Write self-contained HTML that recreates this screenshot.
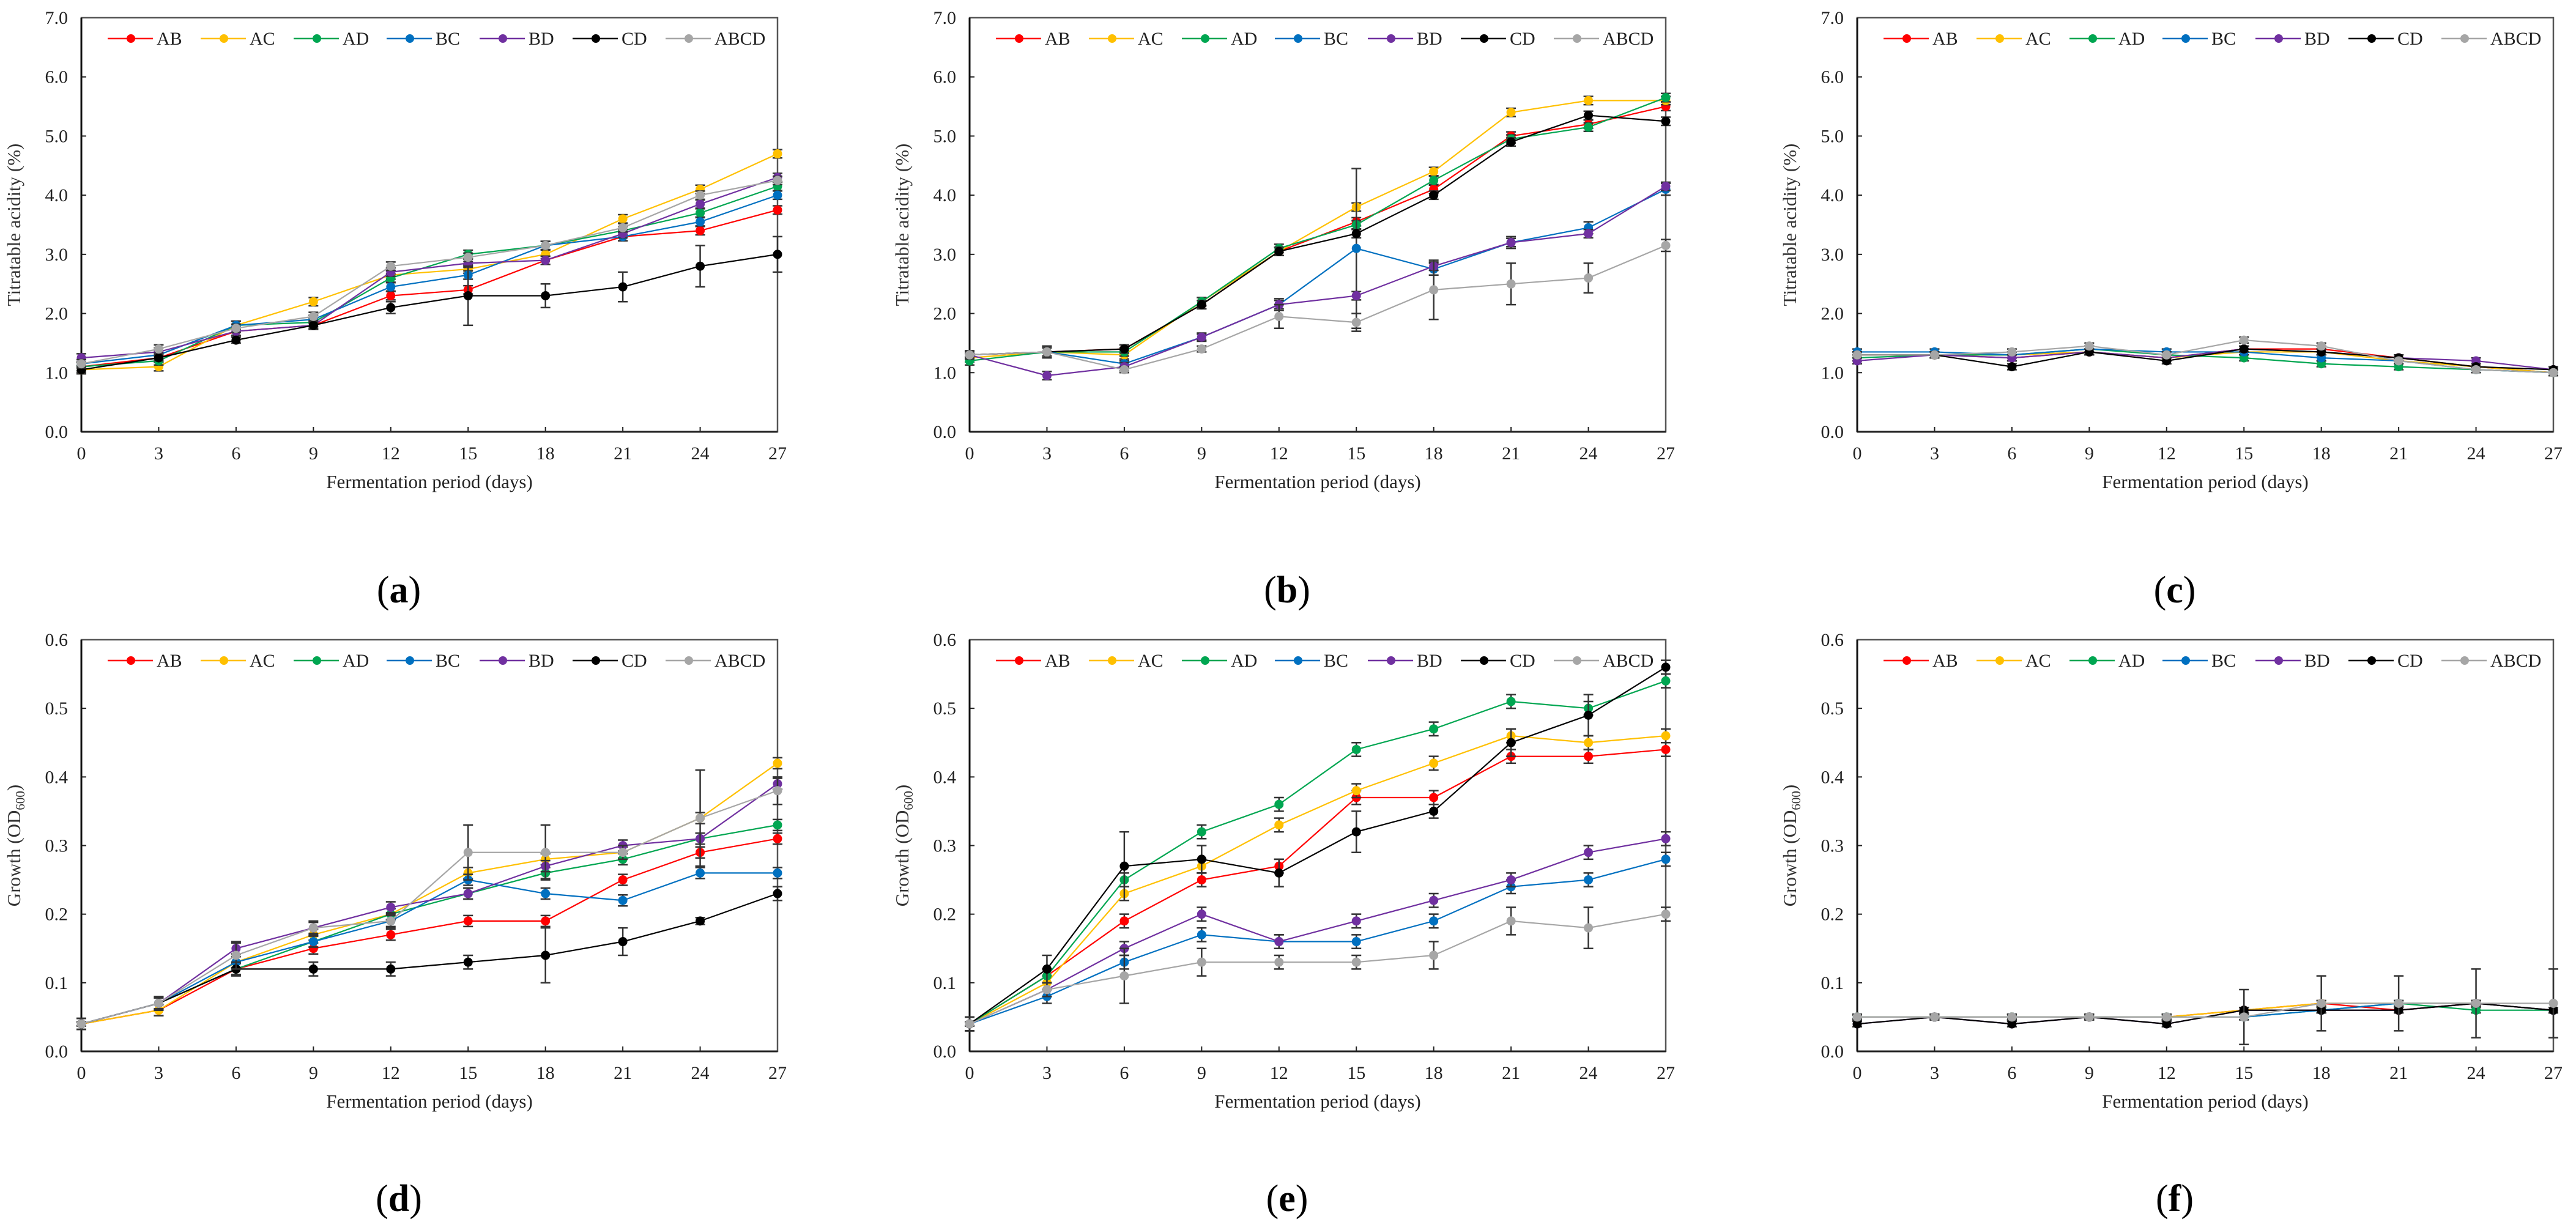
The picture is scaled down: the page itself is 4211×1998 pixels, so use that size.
<!DOCTYPE html>
<html><head><meta charset="utf-8"><style>
html,body{margin:0;padding:0;background:#fff;}
svg{display:block;font-family:"Liberation Serif",serif;}
</style></head><body>
<svg id="fig" width="4211" height="1998" viewBox="0 0 4211 1998" xmlns="http://www.w3.org/2000/svg"></svg>
<script>
const days = [0,3,6,9,12,15,18,21,24,27];
const seriesNames = ["AB","AC","AD","BC","BD","CD","ABCD"];
const seriesColors = ["#ff0000","#ffc000","#00a651","#0070c0","#7030a0","#000000","#a6a6a6"];
const taTicks = ["0.0","1.0","2.0","3.0","4.0","5.0","6.0","7.0"];
const odTicks = ["0.0","0.1","0.2","0.3","0.4","0.5","0.6"];

const aAB=[1.1,1.25,1.7,1.8,2.3,2.4,2.9,3.3,3.4,3.75];
const aAC=[1.05,1.1,1.8,2.2,2.65,2.75,3.0,3.6,4.1,4.7];
const aAD=[1.1,1.2,1.8,1.85,2.6,3.0,3.15,3.4,3.7,4.15];
const aBC=[1.15,1.3,1.8,1.9,2.45,2.65,3.15,3.3,3.55,4.0];
const aBD=[1.25,1.35,1.7,1.8,2.7,2.85,2.9,3.35,3.85,4.3];
const aCD=[1.05,1.25,1.55,1.8,2.1,2.3,2.3,2.45,2.8,3.0];
const aABCD=[1.15,1.4,1.75,1.95,2.8,2.95,3.15,3.45,4.0,4.25];
const aErrCD=[0.05,0.05,0.05,0.05,0.1,0.5,0.2,0.25,0.35,0.3];

const bAB=[1.3,1.35,1.4,2.15,3.05,3.55,4.1,5.0,5.2,5.5];
const bAC=[1.25,1.35,1.3,2.2,3.05,3.8,4.4,5.4,5.6,5.6];
const bAD=[1.2,1.35,1.35,2.2,3.1,3.5,4.25,4.95,5.15,5.65];
const bBC=[1.3,1.35,1.15,1.6,2.15,3.1,2.75,3.2,3.45,4.1];
const bBD=[1.3,0.95,1.1,1.6,2.15,2.3,2.8,3.2,3.35,4.15];
const bCD=[1.3,1.35,1.4,2.15,3.05,3.35,4.0,4.9,5.35,5.25];
const bABCD=[1.3,1.35,1.05,1.4,1.95,1.85,2.4,2.5,2.6,3.15];
const bErrBC=[0.05,0.1,0.05,0.05,0.1,1.35,0.1,0.1,0.1,0.1];
const bErrABCD=[0.05,0.1,0.05,0.05,0.2,0.15,0.5,0.35,0.25,0.1];

const cAB=[1.3,1.3,1.25,1.35,1.25,1.4,1.4,1.25,1.1,1.0];
const cAC=[1.3,1.3,1.3,1.35,1.25,1.35,1.35,1.2,1.1,1.0];
const cAD=[1.25,1.3,1.3,1.4,1.3,1.25,1.15,1.1,1.05,1.0];
const cBC=[1.35,1.35,1.3,1.4,1.35,1.35,1.25,1.2,1.05,1.0];
const cBD=[1.2,1.3,1.25,1.35,1.25,1.4,1.35,1.25,1.2,1.05];
const cCD=[1.3,1.3,1.1,1.35,1.2,1.4,1.35,1.25,1.1,1.05];
const cABCD=[1.3,1.3,1.35,1.45,1.3,1.55,1.45,1.2,1.05,1.0];

const dAB=[0.04,0.06,0.12,0.15,0.17,0.19,0.19,0.25,0.29,0.31];
const dAC=[0.04,0.06,0.13,0.17,0.2,0.26,0.28,0.29,0.34,0.42];
const dAD=[0.04,0.07,0.12,0.16,0.2,0.23,0.26,0.28,0.31,0.33];
const dBC=[0.04,0.07,0.13,0.16,0.19,0.25,0.23,0.22,0.26,0.26];
const dBD=[0.04,0.07,0.15,0.18,0.21,0.23,0.27,0.3,0.31,0.39];
const dCD=[0.04,0.07,0.12,0.12,0.12,0.13,0.14,0.16,0.19,0.23];
const dABCD=[0.04,0.07,0.14,0.18,0.19,0.29,0.29,0.29,0.34,0.38];
const dErrABCD=[0.003,0.01,0.02,0.01,0.01,0.04,0.04,0.01,0.07,0.02];
const dErrCD=[0.003,0.01,0.01,0.01,0.01,0.01,0.04,0.02,0.005,0.01];

const eAB=[0.04,0.11,0.19,0.25,0.27,0.37,0.37,0.43,0.43,0.44];
const eAC=[0.04,0.10,0.23,0.27,0.33,0.38,0.42,0.46,0.45,0.46];
const eAD=[0.04,0.11,0.25,0.32,0.36,0.44,0.47,0.51,0.50,0.54];
const eBC=[0.04,0.08,0.13,0.17,0.16,0.16,0.19,0.24,0.25,0.28];
const eBD=[0.04,0.09,0.15,0.20,0.16,0.19,0.22,0.25,0.29,0.31];
const eCD=[0.04,0.12,0.27,0.28,0.26,0.32,0.35,0.45,0.49,0.56];
const eABCD=[0.04,0.09,0.11,0.13,0.13,0.13,0.14,0.19,0.18,0.20];
const eErrCD=[0.003,0.02,0.05,0.02,0.02,0.03,0.01,0.02,0.03,0.01];
const eErrABCD=[0.003,0.01,0.04,0.02,0.01,0.01,0.02,0.02,0.03,0.01];

const fAB=[0.05,0.05,0.05,0.05,0.05,0.06,0.07,0.06,0.07,0.06];
const fAC=[0.05,0.05,0.05,0.05,0.05,0.06,0.07,0.07,0.07,0.06];
const fAD=[0.05,0.05,0.05,0.05,0.05,0.05,0.06,0.07,0.06,0.06];
const fBC=[0.05,0.05,0.05,0.05,0.05,0.05,0.06,0.07,0.07,0.06];
const fBD=[0.04,0.05,0.04,0.05,0.04,0.06,0.06,0.06,0.07,0.06];
const fCD=[0.04,0.05,0.04,0.05,0.04,0.06,0.06,0.06,0.07,0.06];
const fABCD=[0.05,0.05,0.05,0.05,0.05,0.05,0.07,0.07,0.07,0.07];
const fErrABCD=[0.003,0.003,0.003,0.003,0.003,0.04,0.04,0.04,0.05,0.05];

const NS="http://www.w3.org/2000/svg";
const svg=document.getElementById('fig');
function mk(tag,attrs,parent){const e=document.createElementNS(NS,tag);for(const k in attrs)e.setAttribute(k,attrs[k]);(parent||svg).appendChild(e);return e;}

function panel(cfg){
  const g=mk('g',{});
  
  
  const L=cfg.left,W=1138,T=cfg.top,B=cfg.bottom;
  const ymax=cfg.ymax;
  const xs=d=>L+d/27*W;
  const ys=v=>B-v/ymax*(B-T);
  // ticks & labels
  cfg.ticks.forEach(t=>{
    const v=parseFloat(t),y=ys(v);
    const tk=mk('line',{x1:L,x2:L+8,y1:y,y2:y,stroke:'#222','stroke-width':2},g);
    
    
    const tx=mk('text',{x:L-22,y:y+10,'text-anchor':'end','font-size':30,fill:'#222'},g);
    tx.textContent=t;
    
    
  });
  days.forEach(d=>{
    const x=xs(d);
    const tk=mk('line',{x1:x,x2:x,y1:B,y2:B-8,stroke:'#222','stroke-width':2},g);
    
    
    const tx=mk('text',{x:x,y:B+45,'text-anchor':'middle','font-size':30,fill:'#222'},g);
    tx.textContent=String(d);
    
    
  });
  const frame=mk('rect',{x:L,y:T,width:W,height:B-T,fill:'none',stroke:'#555','stroke-width':2.5},g);
  
  
  const xa=mk('line',{x1:L,x2:L+W,y1:B,y2:B,stroke:'#222','stroke-width':3},g);
  
  
  const ya=mk('line',{x1:L,x2:L,y1:T,y2:B,stroke:'#111','stroke-width':3},g);
  
  
  // axis titles
  const xt=mk('text',{x:L+W/2,y:B+92,'text-anchor':'middle','font-size':31,fill:'#222'},g);
  xt.textContent='Fermentation period (days)';
  
  
  const cy=(T+B)/2;
  const yt=mk('text',{x:L-100,y:cy,'text-anchor':'middle','font-size':31,fill:'#333',transform:'rotate(-90 '+(L-100)+' '+cy+')'},g);
  
  
  if(cfg.kind==='ta){'){}
  if(cfg.kind==='ta'){yt.textContent='Titratable acidity (%)';}
  else{
    yt.appendChild(document.createTextNode('Growth (OD'));
    const s=mk('tspan',{'font-size':21,dy:7},yt);s.textContent='600';
    const s2=mk('tspan',{dy:-7},yt);s2.textContent=')';
  }
  // series
  cfg.data.forEach((vals,i)=>{
    const col=seriesColors[i];
    const sg=mk('g',{},g);
    
    
    const errs=(cfg.errs&&cfg.errs[i])||null;
    vals.forEach((v,j)=>{
      const e=errs?errs[j]:cfg.defErr;
      const x=xs(days[j]);
      const eb=mk('path',{d:'M'+x+' '+ys(v+e)+'V'+ys(v-e)+'M'+(x-8)+' '+ys(v+e)+'h16M'+(x-8)+' '+ys(v-e)+'h16',stroke:'#333','stroke-width':2.5,fill:'none'},sg);
      
      
    });
    const pts=vals.map((v,j)=>xs(days[j])+','+ys(v)).join(' ');
    const pl=mk('polyline',{points:pts,fill:'none',stroke:col,'stroke-width':2.2},sg);
    
    
    vals.forEach((v,j)=>{
      const c=mk('circle',{cx:xs(days[j]),cy:ys(v),r:7.5,fill:col},sg);
      
      
    });
  });
  // legend
  const lg=mk('g',{},g);
  
  
  seriesNames.forEach((n,i)=>{
    const mx=L+81+i*152,my=T+34;
    const eg=mk('g',{},lg);
    
    
    mk('line',{x1:mx-38,x2:mx+36,y1:my,y2:my,stroke:seriesColors[i],'stroke-width':2.5},eg);
    mk('circle',{cx:mx,cy:my,r:7,fill:seriesColors[i]},eg);
    const t=mk('text',{x:mx+42,y:my+10,'font-size':30,fill:'#222'},eg);
    t.textContent=n;
  });
  // caption
  const cap=mk('text',{x:L+W/2-50,y:cfg.capY,'text-anchor':'middle','font-size':62,fill:'#000'},g);
  
  
  cap.appendChild(document.createTextNode('('));
  const b=mk('tspan',{'font-weight':'bold'},cap);b.textContent=cfg.id;
  cap.appendChild(document.createTextNode(')'));
}

const lefts=[133,1585,3036];
panel({id:'a',kind:'ta',left:lefts[0],top:29,bottom:706,ymax:7,ticks:taTicks,capY:985,defErr:0.07,
  data:[aAB,aAC,aAD,aBC,aBD,aCD,aABCD],errs:[null,null,null,null,null,aErrCD,null]});
panel({id:'b',kind:'ta',left:lefts[1],top:29,bottom:706,ymax:7,ticks:taTicks,capY:985,defErr:0.07,
  data:[bAB,bAC,bAD,bBC,bBD,bCD,bABCD],errs:[null,null,null,bErrBC,null,null,bErrABCD]});
panel({id:'c',kind:'ta',left:lefts[2],top:29,bottom:706,ymax:7,ticks:taTicks,capY:985,defErr:0.05,
  data:[cAB,cAC,cAD,cBC,cBD,cCD,cABCD]});
panel({id:'d',kind:'od',left:lefts[0],top:1046,bottom:1719,ymax:0.6,ticks:odTicks,capY:1980,defErr:0.008,
  data:[dAB,dAC,dAD,dBC,dBD,dCD,dABCD],errs:[null,null,null,null,null,dErrCD,dErrABCD]});
panel({id:'e',kind:'od',left:lefts[1],top:1046,bottom:1719,ymax:0.6,ticks:odTicks,capY:1980,defErr:0.01,
  data:[eAB,eAC,eAD,eBC,eBD,eCD,eABCD],errs:[null,null,null,null,null,eErrCD,eErrABCD]});
panel({id:'f',kind:'od',left:lefts[2],top:1046,bottom:1719,ymax:0.6,ticks:odTicks,capY:1980,defErr:0.004,
  data:[fAB,fAC,fAD,fBC,fBD,fCD,fABCD],errs:[null,null,null,null,null,null,fErrABCD]});
</script>
</body></html>
